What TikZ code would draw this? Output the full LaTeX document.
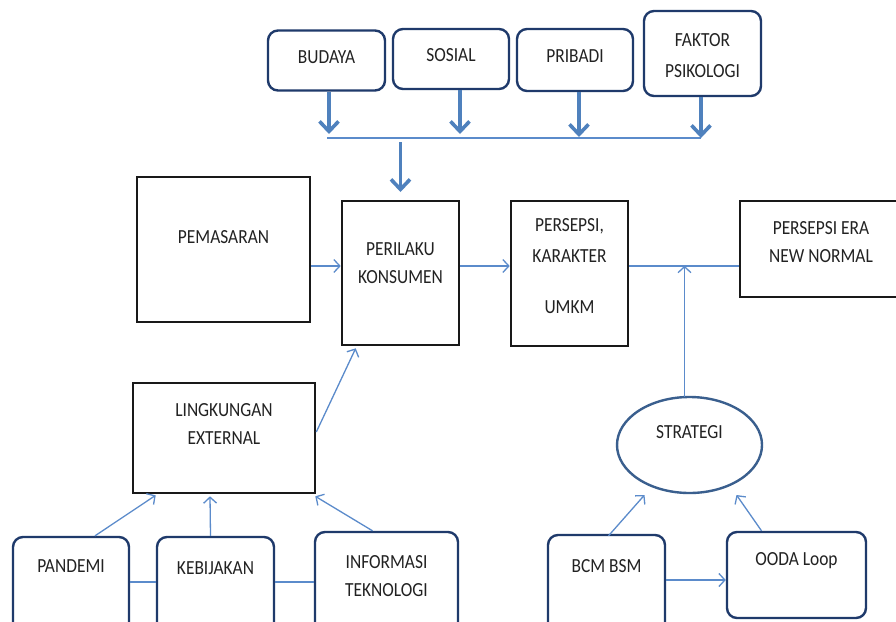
\documentclass[tikz,border=0pt]{standalone}
\usepackage{fontspec}
\setmainfont{Carlito}[FakeStretch=0.87]
\usetikzlibrary{arrows.meta,shapes.geometric,calc}
\definecolor{navy}{HTML}{1F3A6B}
\definecolor{arrowblue}{HTML}{4F81BD}
\definecolor{lineblue}{HTML}{5B8BCB}
\definecolor{ellblue}{HTML}{3A5F8E}
\definecolor{txt}{HTML}{222222}
\begin{document}
\begin{tikzpicture}[x=1pt,y=-1pt,
  rbox/.style={draw=navy,line width=2.4pt,rounded corners=10pt,inner sep=0pt},
  bbox/.style={draw=black!90,line width=2.6pt,inner sep=0pt},
  ebox/.style={ellipse,draw=ellblue,line width=2.4pt,inner sep=0pt},
  lbl/.style={font=\fontsize{20}{28}\selectfont,text=txt,align=center,inner sep=0pt},
  thickarrow/.style={draw=arrowblue,line width=3.6pt,-{Straight Barb[length=10pt,width=19pt,line width=3.6pt]}},
  thinarrow/.style={draw=lineblue,line width=1.3pt,-{Straight Barb[length=6pt,width=13pt,line width=1.3pt]}},
  thinline/.style={draw=lineblue,line width=1.3pt}]
\useasboundingbox (0,0) rectangle (896,621);
\fill[white] (0,0) rectangle (896,621);

% top rounded boxes
\node[rbox,minimum width=117pt,minimum height=60pt] (budaya) at (326.5,60.5) {};
\node[rbox,minimum width=116pt,minimum height=60pt] (sosial) at (451,59) {};
\node[rbox,minimum width=116pt,minimum height=62pt] (pribadi) at (575,60) {};
\node[rbox,minimum width=117pt,minimum height=85pt] (faktor) at (702.5,53.5) {};

\node[lbl] (tbudaya) at (326.5,57) {BUDAYA};
\node[lbl] (tsosial) at (451,55) {SOSIAL};
\node[lbl] (tpribadi) at (575,56) {PRIBADI};
\node[lbl] (tfaktor1) at (702.5,40) {FAKTOR};
\node[lbl] (tfaktor2) at (702.5,71) {PSIKOLOGI};

% bus line
\coordinate (busL) at (327,138);
\coordinate (busR) at (701,138);
\draw[thinline] (busL) -- (busR);
\draw[thickarrow] (budaya.south -| 329,0) -- (329,134);
\draw[thickarrow] (sosial.south -| 460,0) -- (460,134);
\draw[thickarrow] (pribadi.south -| 579,0) -- (579,137);
\draw[thickarrow] (faktor.south -| 701,0) -- (701,138);

% main boxes
\node[bbox,minimum width=173pt,minimum height=145pt] (pem) at (223.5,249.5) {};
\node[bbox,minimum width=117pt,minimum height=144pt] (per) at (400.5,273) {};
\node[bbox,minimum width=117pt,minimum height=145pt] (pers) at (569.5,273.5) {};
\node[bbox,minimum width=160pt,minimum height=96pt] (era) at (820,249) {};
\node[bbox,minimum width=182pt,minimum height=110pt] (ling) at (224,438) {};

\node[lbl] (tpem) at (223.5,237) {PEMASARAN};
\node[lbl] (tper) at (400.5,263) {PERILAKU\\KONSUMEN};
\node[lbl] (tpers1) at (569.5,226) {PERSEPSI,};
\node[lbl] (tpers2) at (569.5,256) {KARAKTER};
\node[lbl] (tpers3) at (569.5,307) {UMKM};
\node[lbl] (tera) at (821,242) {PERSEPSI ERA\\NEW NORMAL};
\node[lbl] (tling) at (224,424) {LINGKUNGAN\\EXTERNAL};

\draw[thickarrow] (per.north |- 0,142) -- (per.north |- 0,192);

% strategy ellipse
\node[ebox,minimum width=145pt,minimum height=96pt] (strat) at (689.5,445) {};
\node[lbl] (tstrat) at (689.5,432) {STRATEGI};

% bottom rounded boxes
\node[rbox,minimum width=116pt,minimum height=100pt] (pand) at (71,587) {};
\node[rbox,minimum width=117pt,minimum height=100pt] (keb) at (215.5,587) {};
\node[rbox,minimum width=143pt,minimum height=105pt] (info) at (386.5,584.5) {};
\node[rbox,minimum width=117pt,minimum height=100pt] (bcm) at (606.5,585) {};
\node[rbox,minimum width=139pt,minimum height=86pt] (ooda) at (796.5,575) {};

\node[lbl] (tpand) at (71,566) {PANDEMI};
\node[lbl] (tkeb) at (215.5,568) {KEBIJAKAN};
\node[lbl] (tinfo) at (386.5,576) {INFORMASI\\TEKNOLOGI};
\node[lbl] (tbcm) at (606.5,566) {BCM BSM};
\node[lbl] (tooda) at (796.5,561) {OODA Loop};

% connectors
\draw[thinarrow] (pem.east |- 0,266) -- (per.west |- 0,266);
\draw[thinarrow] (per.east |- 0,266) -- (pers.west |- 0,266);
\draw[thinline] (pers.east |- 0,266) -- (era.west |- 0,266);
\draw[thinarrow] ($(strat.north)+(-5,1)$) -- ($(strat.north)+(-5,-130)$);
\draw[thinarrow] (ling.east |- 0,432) -- ($(per.south west)+(15,2)$);
\draw[thinarrow] ($(pand.north)+(24,0)$) -- ($(ling.south west)+(24,1)$);
\draw[thinarrow] ($(keb.north)+(-5,0)$) -- ($(ling.south)+(-14,2)$);
\draw[thinarrow] ($(info.north)+(-14,0)$) -- ($(ling.south east)+(-1,2)$);
\draw[thinline] (pand.east |- 0,582) -- (keb.west |- 0,582);
\draw[thinline] (keb.east |- 0,582) -- (info.west |- 0,582);
\draw[thinarrow] ($(bcm.north)+(2,2)$) -- ($(strat.center)+(-45,50)$);
\draw[thinarrow] ($(ooda.north)+(-35,0)$) -- ($(strat.center)+(47,50)$);
\draw[thinarrow] (bcm.east |- 0,580) -- (ooda.west |- 0,580);
\end{tikzpicture}
\end{document}
